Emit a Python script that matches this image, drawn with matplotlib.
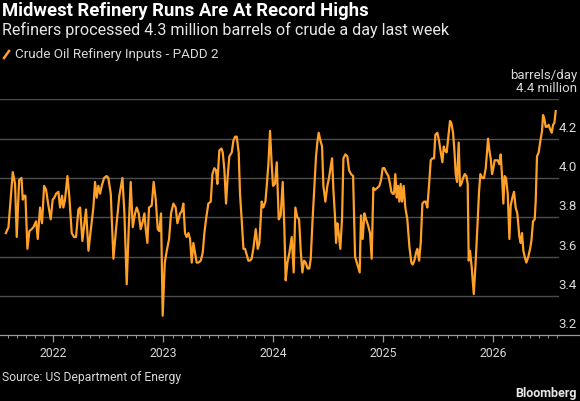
import matplotlib
matplotlib.use("Agg")
import matplotlib.pyplot as plt
from matplotlib.ticker import FixedLocator

""" data: weekly crude oil refinery inputs, PADD 2 (million barrels/day), read off the chart """

years = [2021.568, 2021.592, 2021.631, 2021.652, 2021.667, 2021.689, 2021.710, 2021.722, 2021.734, 2021.746,
         2021.764, 2021.782, 2021.803, 2021.819, 2021.843, 2021.858, 2021.879, 2021.897, 2021.916, 2021.934,
         2021.955, 2021.976, 2021.994, 2022.009, 2022.025, 2022.046, 2022.061, 2022.079, 2022.091, 2022.106,
         2022.128, 2022.146, 2022.167, 2022.188, 2022.206, 2022.228, 2022.243, 2022.264, 2022.282, 2022.297,
         2022.319, 2022.343, 2022.364, 2022.379, 2022.394, 2022.409, 2022.425, 2022.440, 2022.461, 2022.485,
         2022.500, 2022.522, 2022.546, 2022.570, 2022.600, 2022.628, 2022.646, 2022.667, 2022.685, 2022.703,
         2022.722, 2022.743, 2022.758, 2022.776, 2022.794, 2022.809, 2022.828, 2022.840, 2022.855, 2022.870,
         2022.894, 2022.912, 2022.931, 2022.949, 2022.964, 2022.979, 2022.994, 2023.013, 2023.031, 2023.052,
         2023.070, 2023.091, 2023.112, 2023.128, 2023.152, 2023.167, 2023.182, 2023.197, 2023.212, 2023.228,
         2023.243, 2023.258, 2023.273, 2023.288, 2023.303, 2023.318, 2023.340, 2023.358, 2023.373, 2023.388,
         2023.409, 2023.431, 2023.446, 2023.464, 2023.479, 2023.491, 2023.509, 2023.528, 2023.540, 2023.555,
         2023.570, 2023.585, 2023.600, 2023.622, 2023.637, 2023.652, 2023.667, 2023.685, 2023.697, 2023.712,
         2023.728, 2023.743, 2023.758, 2023.773, 2023.788, 2023.803, 2023.818, 2023.840, 2023.858, 2023.873,
         2023.894, 2023.909, 2023.928, 2023.940, 2023.955, 2023.970, 2023.985, 2023.997, 2024.015, 2024.031,
         2024.049, 2024.067, 2024.085, 2024.100, 2024.112, 2024.128, 2024.146, 2024.167, 2024.185, 2024.200,
         2024.218, 2024.234, 2024.249, 2024.264, 2024.279, 2024.294, 2024.312, 2024.327, 2024.340, 2024.355,
         2024.370, 2024.388, 2024.400, 2024.412, 2024.428, 2024.443, 2024.455, 2024.473, 2024.491, 2024.506,
         2024.522, 2024.534, 2024.546, 2024.561, 2024.570, 2024.582, 2024.594, 2024.609, 2024.625, 2024.637,
         2024.655, 2024.673, 2024.688, 2024.706, 2024.725, 2024.743, 2024.764, 2024.785, 2024.797, 2024.812,
         2024.828, 2024.843, 2024.861, 2024.879, 2024.894, 2024.909, 2024.925, 2024.946, 2024.964, 2024.979,
         2024.994, 2025.009, 2025.025, 2025.046, 2025.061, 2025.073, 2025.085, 2025.097, 2025.109, 2025.122,
         2025.134, 2025.146, 2025.158, 2025.170, 2025.185, 2025.200, 2025.218, 2025.237, 2025.255, 2025.267,
         2025.282, 2025.297, 2025.309, 2025.325, 2025.340, 2025.355, 2025.370, 2025.385, 2025.400, 2025.415,
         2025.431, 2025.446, 2025.461, 2025.473, 2025.491, 2025.506, 2025.522, 2025.537, 2025.549, 2025.561,
         2025.576, 2025.591, 2025.606, 2025.618, 2025.634, 2025.646, 2025.658, 2025.670, 2025.685, 2025.697,
         2025.709, 2025.725, 2025.740, 2025.755, 2025.767, 2025.776, 2025.788, 2025.803, 2025.822, 2025.837,
         2025.855, 2025.870, 2025.882, 2025.900, 2025.915, 2025.931, 2025.943, 2025.952, 2025.964, 2025.976,
         2025.988, 2026.000, 2026.012, 2026.025, 2026.040, 2026.055, 2026.067, 2026.079, 2026.091, 2026.103,
         2026.115, 2026.131, 2026.146, 2026.158, 2026.173, 2026.188, 2026.203, 2026.218, 2026.237, 2026.249,
         2026.261, 2026.273, 2026.285, 2026.300, 2026.318, 2026.334, 2026.346, 2026.361, 2026.376, 2026.385,
         2026.397, 2026.412, 2026.428, 2026.443, 2026.452, 2026.464, 2026.476, 2026.488, 2026.503, 2026.515,
         2026.531, 2026.543, 2026.555, 2026.567]

inputs = [3.72, 3.75, 4.03, 3.97, 3.70, 3.99, 4.00, 3.89, 3.91, 3.91,
          3.64, 3.73, 3.74, 3.75, 3.78, 3.69, 3.85, 3.77, 3.96, 3.94,
          3.86, 3.79, 3.89, 3.90, 3.92, 3.93, 3.85, 3.91, 3.85, 3.89,
          4.01, 3.90, 3.72, 3.70, 3.70, 3.84, 3.85, 3.68, 3.77, 3.84,
          3.63, 3.75, 3.85, 3.98, 3.90, 3.96, 3.92, 3.96, 4.00, 4.01,
          4.00, 3.92, 3.59, 3.74, 3.91, 4.00, 3.82, 3.46, 3.74, 3.98,
          3.75, 3.82, 3.85, 3.82, 3.74, 3.77, 3.82, 3.74, 3.67, 3.85,
          3.86, 3.98, 3.89, 3.74, 3.73, 3.82, 3.30, 3.57, 3.63, 3.69,
          3.82, 3.87, 3.85, 3.77, 3.82, 3.83, 3.87, 3.72, 3.70, 3.72,
          3.69, 3.57, 3.67, 3.62, 3.57, 3.57, 3.58, 3.62, 3.72, 3.79,
          3.87, 3.88, 4.02, 4.05, 4.04, 3.97, 4.14, 4.15, 4.13, 4.04,
          3.87, 4.01, 4.11, 4.13, 4.19, 4.21, 4.21, 4.13, 3.92, 3.79,
          3.64, 3.64, 3.61, 3.58, 3.58, 3.59, 3.64, 3.74, 3.64, 3.67,
          3.88, 3.85, 3.88, 3.96, 4.07, 4.24, 4.07, 3.96, 3.97, 4.08,
          3.79, 3.81, 3.98, 3.75, 3.48, 3.57, 3.62, 3.70, 3.52, 3.85,
          3.80, 3.79, 3.63, 3.52, 3.58, 3.57, 3.54, 3.54, 3.59, 3.77,
          3.92, 4.11, 4.18, 4.23, 4.19, 4.16, 3.96, 3.88, 3.96, 4.00,
          4.06, 4.10, 3.94, 3.80, 3.67, 3.77, 3.72, 3.64, 3.80, 4.10,
          4.12, 4.11, 4.04, 4.02, 4.01, 3.60, 3.56, 3.52, 3.81, 3.69,
          3.82, 3.79, 3.76, 3.72, 3.59, 3.95, 3.94, 3.95, 3.96, 3.99,
          4.05, 4.05, 4.03, 4.01, 3.97, 3.93, 3.92, 3.92, 4.02, 3.90,
          3.96, 3.88, 3.97, 3.88, 3.96, 3.85, 3.79, 3.65, 3.57, 3.56,
          3.58, 3.62, 3.64, 3.58, 3.67, 3.87, 3.88, 3.88, 3.85, 3.96,
          4.09, 4.10, 4.10, 4.22, 4.23, 4.19, 4.13, 4.08, 4.16, 4.14,
          4.13, 4.21, 4.29, 4.28, 4.23, 4.14, 4.02, 3.98, 4.18, 3.96,
          3.97, 4.00, 4.02, 4.01, 3.97, 3.58, 3.63, 3.55, 3.41, 3.55,
          3.75, 3.93, 4.02, 4.00, 4.00, 4.05, 4.14, 4.20, 4.14, 4.10,
          4.02, 4.05, 4.09, 4.09, 4.09, 4.07, 4.12, 4.01, 3.87, 4.01,
          4.00, 3.92, 3.69, 3.86, 3.90, 3.93, 3.85, 3.82, 3.70, 3.67,
          3.72, 3.63, 3.60, 3.57, 3.60, 3.64, 3.68, 3.78, 3.79, 3.88,
          4.11, 4.13, 4.19, 4.24, 4.32, 4.30, 4.26, 4.26, 4.27, 4.25,
          4.23, 4.27, 4.28, 4.34]

year_ticks = [2022, 2023, 2024, 2025, 2026]
value_ticks = [3.2, 3.4, 3.6, 3.8, 4.0, 4.2]

title = "Midwest Refinery Runs Are At Record Highs"
subtitle = "Refiners processed 4.3 million barrels of crude a day last week"
legend_label = "Crude Oil Refinery Inputs - PADD 2"
source = "Source: US Department of Energy"

""" styling """

BG = "#000000"
ORANGE = "#FFA028"
GRID = "#4d4d4d"
TXT = "#d9d9d9"
W, H = 580, 401

plt.rcParams["font.family"] = ["Roboto", "DejaVu Sans"]

fig = plt.figure(figsize=(W / 100, H / 100), dpi=100, facecolor=BG)
ax = fig.add_axes([0, 1 - 335.4 / H, 559 / W, (335.4 - 99.3) / H], facecolor=BG)

ax.plot(years, inputs, color=ORANGE, lw=1.6, solid_joinstyle="round", zorder=3)

ax.set_xlim(2021.515, 2026.597)
ax.set_ylim(3.2, 4.4)

# gridlines
for v in value_ticks[1:] + [4.4]:
    ax.axhline(v, color=GRID, lw=1.0, zorder=1)

for s in ["top", "right", "left"]:
    ax.spines[s].set_visible(False)
ax.spines["bottom"].set_color("#9a9a9a")
ax.spines["bottom"].set_linewidth(0.9)

ax.set_yticks([])
ax.set_xticks(year_ticks)
ax.set_xticklabels([str(y) for y in year_ticks], color=TXT, fontsize=8.8)
months = [y + m / 12 for y in range(2021, 2027) for m in range(1, 12)]
ax.xaxis.set_minor_locator(FixedLocator(months))
ax.tick_params(axis="x", which="major", length=5, width=0.9, color="#9a9a9a", pad=3)
ax.tick_params(axis="x", which="minor", length=2.5, width=0.7, color="#9a9a9a")

# bottom axis line runs the full width
fig.add_artist(plt.Line2D([559 / W, 1], [1 - 335.4 / H] * 2, color="#9a9a9a", lw=0.9))

# y labels, right aligned just above each gridline
for v in value_ticks:
    ax.annotate(f"{v:.1f}", xy=(1, v), xycoords=("axes fraction", "data"),
                xytext=(577 - 559, 4), textcoords="offset pixels",
                ha="right", va="bottom", color=TXT, fontsize=9.5, annotation_clip=False)
ax.annotate("4.4 million", xy=(1, 4.4), xycoords=("axes fraction", "data"),
            xytext=(577 - 559, 4), textcoords="offset pixels",
            ha="right", va="bottom", color=TXT, fontsize=9.5, annotation_clip=False)
fig.text(577 / W, 1 - 75.5 / H, "barrels/day", ha="right", va="center", color=TXT, fontsize=9.5)

# header
fig.text(2 / W, 1 - 11 / H, title, ha="left", va="center", color="white",
         fontsize=13.3, fontweight="bold")
fig.text(2 / W, 1 - 30 / H, subtitle, ha="left", va="center", color="#e6e6e6", fontsize=11.6)
fig.add_artist(plt.Line2D([4 / W, 9 / W], [1 - 58 / H, 1 - 51 / H], color=ORANGE, lw=1.8))
fig.text(15 / W, 1 - 54.5 / H, legend_label, ha="left", va="center", color=TXT, fontsize=9.7)

# footer
fig.text(2 / W, 1 - 378 / H, source, ha="left", va="center", color=TXT, fontsize=8.7)
fig.text(577 / W, 1 - 393 / H, "Bloomberg", ha="right", va="center", color="#e6e6e6",
         fontsize=9, fontweight="bold")

fig.savefig("out.png", dpi=100, facecolor=BG)
